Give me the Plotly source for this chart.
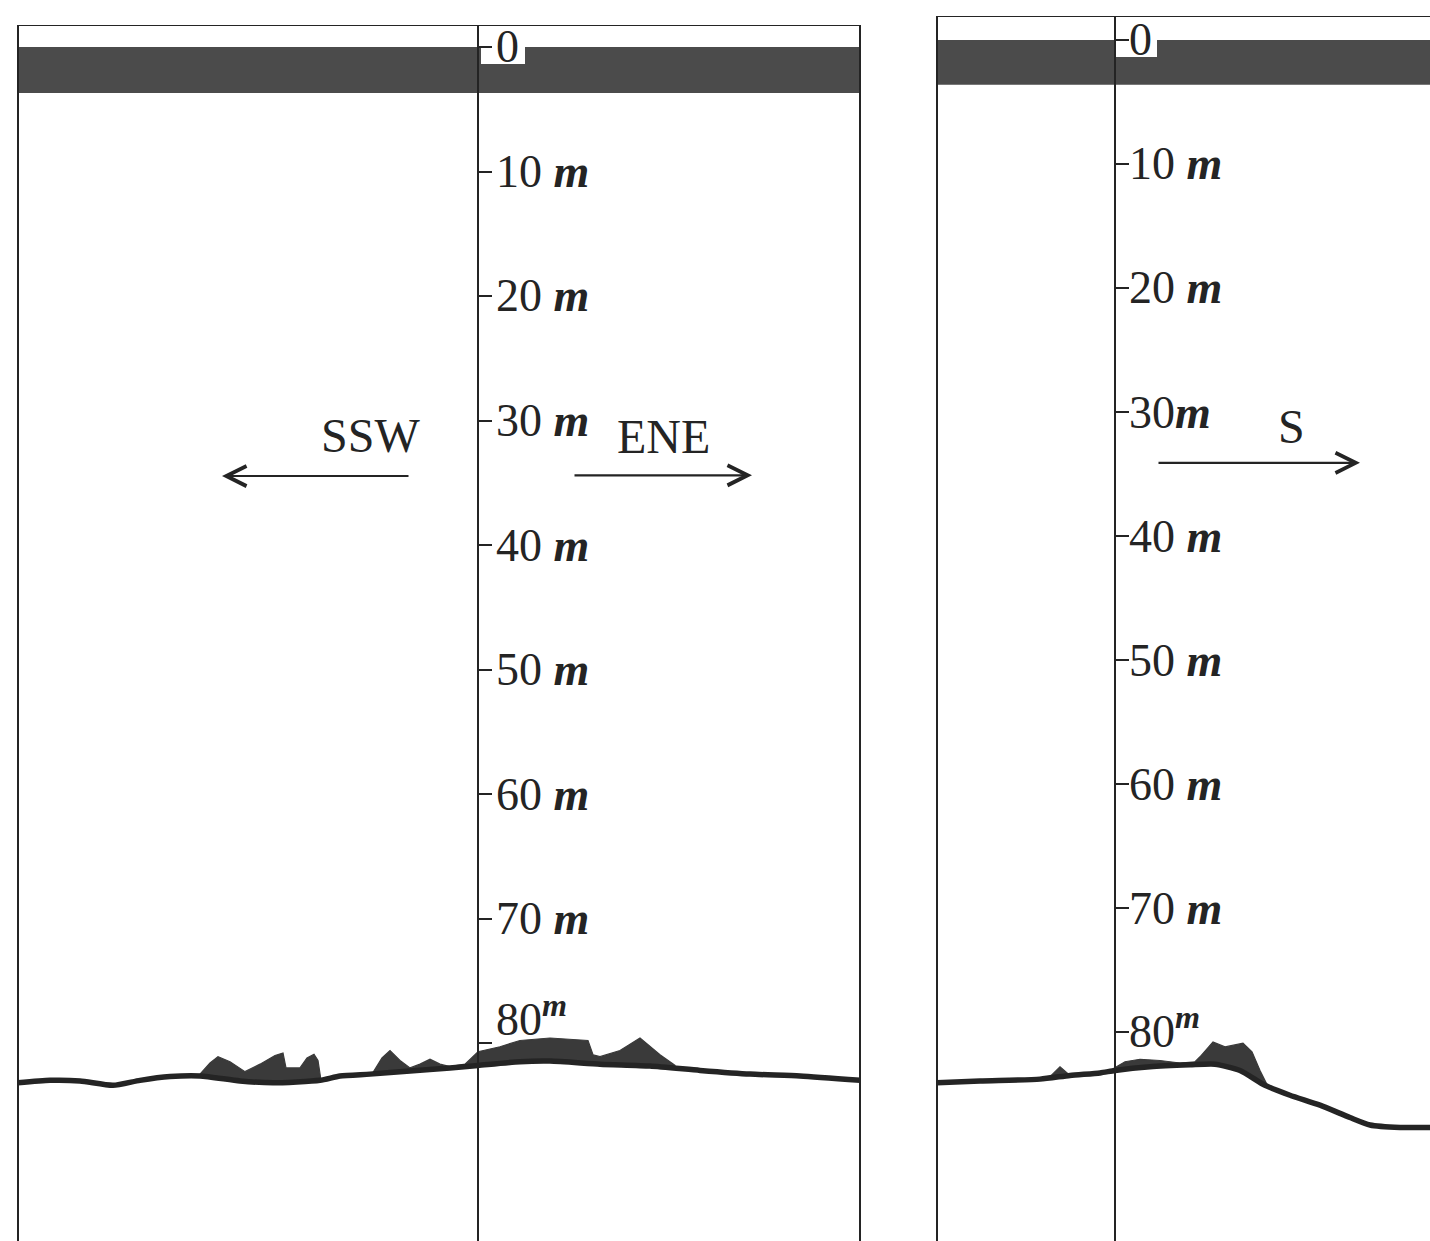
import plotly.graph_objects as go

# ---------------- data (depth in m, horizontal distance in arbitrary units, 0 = sounding axis) ----
depth_ticks = [0, 10, 20, 30, 40, 50, 60, 70, 80]
depth_labels = ["0", "10", "20", "30", "40", "50", "60", "70", "80"]

# Left profile (SSW <- | -> ENE)
L_seabed_x = [-460, -428, -398, -365, -338, -308, -278, -238, -205, -158, -138, -108, -68, -28, 0,
              42, 72, 122, 172, 222, 272, 322, 382]
L_seabed_d = [83.2, 83.0, 83.05, 83.4, 83.0, 82.7, 82.65, 83.05, 83.2, 83.0, 82.65, 82.5, 82.25, 82.0, 81.8,
              81.5, 81.45, 81.7, 81.85, 82.2, 82.5, 82.65, 83.0]

L_featA_top_x = [-278, -268, -260, -248, -233, -218, -203, -195, -192, -178, -171, -164, -160, -157]
L_featA_top_d = [82.5, 81.6, 81.1, 81.5, 82.3, 81.7, 81.0, 80.8, 82.0, 82.0, 81.2, 80.9, 81.4, 83.0]
L_featA_base_x = [-157, -205, -238, -278]
L_featA_base_d = [83.0, 83.2, 83.05, 82.65]

L_featB_top_x = [-106, -96, -88, -78, -68, -58, -48, -38, -28, -13, 0, 22, 42, 72, 110, 115, 122, 142, 162, 182, 197]
L_featB_top_d = [82.5, 81.2, 80.6, 81.4, 82.0, 81.7, 81.3, 81.7, 81.9, 81.7, 80.7, 80.3, 79.8, 79.6, 79.8,
                 80.95, 81.1, 80.6, 79.6, 80.95, 81.8]
L_featB_base_x = [197, 172, 122, 72, 42, 0, -28, -68, -106]
L_featB_base_d = [81.95, 81.85, 81.7, 81.45, 81.5, 81.8, 82.0, 82.25, 82.5]

# Right profile (-> S)
R_seabed_x = [-178, -135, -75, -45, -15, 0, 35, 75, 100, 125, 150, 175, 205, 235, 255, 285, 315]
R_seabed_d = [84.1, 83.95, 83.8, 83.5, 83.3, 83.1, 82.8, 82.65, 82.6, 83.1, 84.3, 85.1, 85.9, 86.9, 87.5, 87.7, 87.7]

R_featA_top_x = [-65, -55, -45]
R_featA_top_d = [83.6, 82.8, 83.5]
R_featA_base_x = [-45, -65]
R_featA_base_d = [83.5, 83.7]

R_featB_top_x = [-5, 10, 25, 45, 65, 80, 85, 98, 110, 120, 128, 137, 145, 153]
R_featB_top_d = [83.1, 82.4, 82.2, 82.3, 82.5, 82.4, 82.0, 80.8, 81.2, 81.0, 80.9, 81.6, 83.1, 84.4]
R_featB_base_x = [153, 125, 100, 75, 35, 0, -5]
R_featB_base_d = [84.4, 83.1, 82.6, 82.65, 82.8, 83.1, 83.2]

# outgoing pulse band (surface mark) and frames
L_band = dict(x0=-460, x1=382, d0=0.0, d1=3.7)
R_band = dict(x0=-178, x1=315, d0=0.0, d1=3.6)
L_zero_box = dict(x0=3, x1=47, d0=-1.1, d1=1.37)
R_zero_box = dict(x0=1, x1=42, d0=-1.77, d1=1.37)

# ---------------- styling ----------------
INK = "#242424"
FILL = "#3a3a3a"
BAND = "#4b4b4b"
FONT = "Liberation Serif"

W, H = 1430, 1241
SPLIT = 900 / W

fig = go.Figure()


def rect(b, color, xa, ya):
    fig.add_trace(go.Scatter(
        x=[b["x0"], b["x1"], b["x1"], b["x0"], b["x0"]],
        y=[b["d0"], b["d0"], b["d1"], b["d1"], b["d0"]],
        mode="lines", fill="toself", fillcolor=color, line=dict(width=0, color=color),
        xaxis=xa, yaxis=ya, hoverinfo="skip"))


def feature(tx, td, bx, bd, xa, ya):
    fig.add_trace(go.Scatter(
        x=tx + bx, y=td + bd, mode="lines", fill="toself", fillcolor=FILL,
        line=dict(width=1.2, color=FILL), xaxis=xa, yaxis=ya, hoverinfo="skip"))


def seabed(x, d, xa, ya):
    fig.add_trace(go.Scatter(x=x, y=d, mode="lines",
                             line=dict(width=5.5, color=INK, shape="spline", smoothing=0.6),
                             xaxis=xa, yaxis=ya, hoverinfo="skip"))


# left panel
rect(L_band, BAND, "x", "y")
rect(L_zero_box, "white", "x", "y")
feature(L_featA_top_x, L_featA_top_d, L_featA_base_x, L_featA_base_d, "x", "y")
feature(L_featB_top_x, L_featB_top_d, L_featB_base_x, L_featB_base_d, "x", "y")
seabed(L_seabed_x, L_seabed_d, "x", "y")

# right panel
rect(R_band, BAND, "x2", "y2")
rect(R_zero_box, "white", "x2", "y2")
feature(R_featA_top_x, R_featA_top_d, R_featA_base_x, R_featA_base_d, "x2", "y2")
feature(R_featB_top_x, R_featB_top_d, R_featB_base_x, R_featB_base_d, "x2", "y2")
seabed(R_seabed_x, R_seabed_d, "x2", "y2")

L_top, R_top = -1.767, -1.935
L_bot, R_bot = 95.904, 96.855

shapes = [
    # left frame
    dict(type="line", xref="x", yref="y", x0=-460, x1=382, y0=L_top, y1=L_top, line=dict(color=INK, width=2)),
    dict(type="line", xref="x", yref="y", x0=-460, x1=-460, y0=L_top, y1=L_bot, line=dict(color=INK, width=2)),
    dict(type="line", xref="x", yref="y", x0=382, x1=382, y0=L_top, y1=L_bot, line=dict(color=INK, width=2)),
    # right frame
    dict(type="line", xref="x2", yref="y2", x0=-178, x1=315, y0=R_top, y1=R_top, line=dict(color=INK, width=2)),
    dict(type="line", xref="x2", yref="y2", x0=-178, x1=-178, y0=R_top, y1=R_bot, line=dict(color=INK, width=2)),
]

annotations = []
M = "<b><i>m</i></b>"


def tick_label(d, lab, xref, yref, xshift, yshift=0, gap=" "):
    if lab == "0":
        txt = "0"
    elif lab == "80":
        txt = "80<sup>" + M + "</sup>"
    else:
        txt = lab + gap + M
    annotations.append(dict(x=0, y=d, xref=xref, yref=yref, text=txt, showarrow=False,
                            xanchor="left", yanchor="middle", xshift=xshift, yshift=yshift,
                            font=dict(family=FONT, size=46, color=INK)))


for d, lab in zip(depth_ticks, depth_labels):
    tick_label(d, lab, "x", "y", 16, 27 if lab == "80" else 0)
    tick_label(d, lab, "x2", "y2", 12, 4 if lab == "80" else 0, gap="" if lab == "30" else " ")

# direction labels and arrows
annotations += [
    dict(x=-108, y=31.2, xref="x", yref="y", text="SSW", showarrow=False,
         font=dict(family=FONT, size=48, color=INK)),
    dict(x=185, y=31.3, xref="x", yref="y", text="ENE", showarrow=False,
         font=dict(family=FONT, size=48, color=INK)),
    dict(x=176, y=31.2, xref="x2", yref="y2", text="S", showarrow=False,
         font=dict(family=FONT, size=48, color=INK)),
    dict(x=-256, y=34.46, ax=-68, ay=34.46, xref="x", yref="y", axref="x", ayref="y", text="",
         showarrow=True, arrowhead=5, arrowsize=1.8, arrowwidth=2.2, arrowcolor=INK),
    dict(x=274, y=34.4, ax=95, ay=34.4, xref="x", yref="y", axref="x", ayref="y", text="",
         showarrow=True, arrowhead=5, arrowsize=1.8, arrowwidth=2.2, arrowcolor=INK),
    dict(x=245, y=34.1, ax=42, ay=34.1, xref="x2", yref="y2", axref="x2", ayref="y2", text="",
         showarrow=True, arrowhead=5, arrowsize=1.8, arrowwidth=2.2, arrowcolor=INK),
]

yax_common = dict(anchor="free", side="right", ticks="outside", ticklen=13, tickwidth=2, tickcolor=INK,
                  showline=True, linecolor=INK, linewidth=2, tickvals=depth_ticks, showticklabels=False,
                  showgrid=False, zeroline=False, fixedrange=True)

fig.update_layout(
    width=W, height=H, autosize=False,
    margin=dict(l=0, r=0, t=0, b=0, pad=0),
    paper_bgcolor="white", plot_bgcolor="white",
    showlegend=False,
    xaxis=dict(domain=[0, SPLIT], range=[-478, 422], visible=False, anchor="y", fixedrange=True),
    xaxis2=dict(domain=[SPLIT, 1], range=[-215, 315], visible=False, anchor="y2", fixedrange=True),
    yaxis=dict(domain=[0, 1 - 25 / H], range=[L_bot, L_top], position=478 / W, **yax_common),
    yaxis2=dict(domain=[0, 1 - 16 / H], range=[R_bot, R_top], position=1115 / W, **yax_common),
    shapes=shapes,
    annotations=annotations,
)

fig.write_html(
    "out.html",
    config={"displayModeBar": False},
    post_script="document.body.style.margin='0';document.body.style.overflow='hidden';",
)
